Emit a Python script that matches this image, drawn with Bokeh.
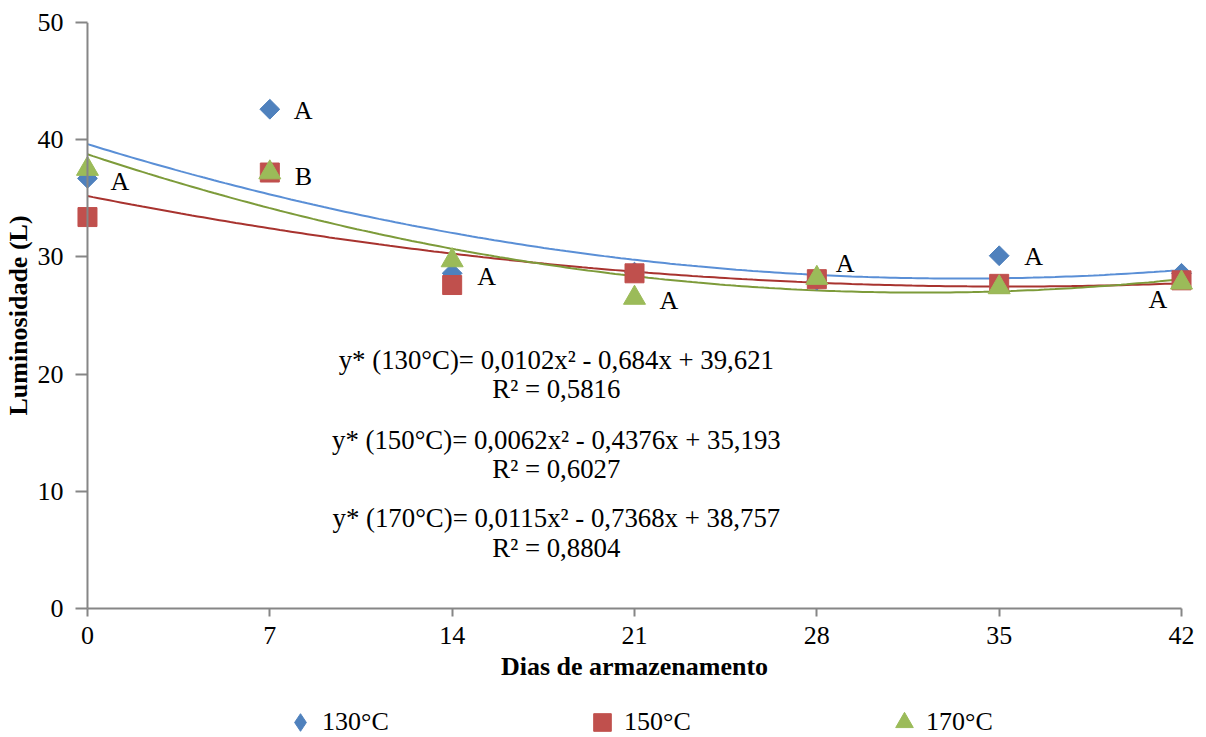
import numpy as np
from bokeh.plotting import figure
from bokeh.layouts import column
from bokeh.models import (Range1d, FixedTicker, Legend, LegendItem, Label, Span, ColumnDataSource)
from bokeh.core.properties import value
from bokeh.embed import file_html
from bokeh.resources import INLINE

# ---------------- data ----------------
days = [0, 7, 14, 21, 28, 35, 42]
l130 = [36.7, 42.6, 28.6, 28.7, 28.0, 30.1, 28.6]
l150 = [33.4, 37.2, 27.6, 28.6, 28.1, 27.7, 28.0]
l170 = [37.5, 37.2, 29.7, 26.5, 28.2, 27.4, 27.8]

# trendline coefficients (a, b, c) of y = a x^2 + b x + c
coef130 = [0.0102, -0.684, 39.621]
coef150 = [0.0062, -0.4376, 35.193]
coef170 = [0.0115, -0.7368, 38.757]

series_names = ["130°C", "150°C", "170°C"]

eq_lines = [
    "y* (130°C)= 0,0102x² - 0,684x + 39,621",
    "R² = 0,5816",
    "y* (150°C)= 0,0062x² - 0,4376x + 35,193",
    "R² = 0,6027",
    "y* (170°C)= 0,0115x² - 0,7368x + 38,757",
    "R² = 0,8804",
]

lbl_text = ["A", "A", "B", "A", "A", "A", "A", "A"]
lbl_day = [0, 7, 7, 14, 21, 28, 35, 42]
lbl_val = [36.4, 42.5, 36.9, 28.3, 26.3, 29.4, 30.0, 26.4]

x_ticks = [0, 7, 14, 21, 28, 35, 42]
y_ticks = [0, 10, 20, 30, 40, 50]

# ---------------- styles ----------------
FONT = "Liberation Serif"
FS = "26px"
AXIS_COLOR = "#868686"
marker_colors = ["#4F81BD", "#C0504D", "#9BBB59"]
line_colors = ["#5A8FD6", "#A8332F", "#7D9B3A"]
lbl_xoff = [23, 24, 25, 25, 25, 19, 25, -33]
eq_x = 18.0
eq_y = [21.2, 18.7, 14.4, 11.9, 7.7, 5.2]

p = figure(width=1206, height=691, output_backend="svg", toolbar_location=None,
           x_range=Range1d(-0.46, 42.46), y_range=Range1d(0, 50),
           min_border_left=75, min_border_right=13, min_border_top=22, min_border_bottom=83)
p.outline_line_color = None
p.xgrid.visible = False
p.ygrid.visible = False
p.background_fill_color = "white"

for ax in (p.xaxis[0], p.yaxis[0]):
    ax.axis_line_color = AXIS_COLOR
    ax.axis_line_width = 2
    ax.major_tick_line_color = AXIS_COLOR
    ax.major_tick_line_width = 2
    ax.minor_tick_line_color = None
    ax.major_label_text_font = FONT
    ax.major_label_text_font_size = FS
    ax.major_label_text_color = "black"
    ax.axis_label_text_font = FONT
    ax.axis_label_text_font_size = FS
    ax.axis_label_text_font_style = "bold"
    ax.axis_label_text_color = "black"

p.xaxis.ticker = FixedTicker(ticks=x_ticks)
p.xaxis.bounds = (0, 42)
p.xaxis.major_tick_out = 8
p.xaxis.major_tick_in = 0
p.xaxis.major_label_standoff = 10
p.xaxis.axis_label = "Dias de armazenamento"
p.xaxis.axis_label_standoff = 5

p.yaxis.ticker = FixedTicker(ticks=y_ticks)
p.yaxis.axis_line_color = None
p.yaxis.major_tick_out = 0
p.yaxis.major_tick_in = 12
p.yaxis.major_label_standoff = 12
p.yaxis.axis_label = "Luminosidade (L)"
p.yaxis.axis_label_standoff = 2

# vertical axis line drawn at x = 0
p.add_layout(Span(location=0, dimension="height", line_color=AXIS_COLOR, line_width=2))

# trendlines
xs = np.linspace(0, 42, 200)
for coef, lc in zip([coef130, coef150, coef170], line_colors):
    ys = coef[0] * xs ** 2 + coef[1] * xs + coef[2]
    p.line(xs, ys, line_color=lc, line_width=2)

# markers
p.scatter(days, l130, marker="square", angle=np.pi / 4, size=14,
          fill_color=marker_colors[0], line_color=marker_colors[0])
p.scatter(days, l150, marker="square", size=19,
          fill_color=marker_colors[1], line_color=marker_colors[1])
p.scatter(days, l170, marker="triangle", size=22,
          fill_color=marker_colors[2], line_color=marker_colors[2])

# letter labels
src = ColumnDataSource(dict(x=lbl_day, y=lbl_val, t=lbl_text, xo=lbl_xoff))
p.text(x="x", y="y", text="t", x_offset="xo", source=src,
       text_font=value(FONT), text_font_size=FS, text_align="left",
       text_baseline="middle", text_color="black")

# equations
for txt, yy in zip(eq_lines, eq_y):
    p.add_layout(Label(x=eq_x, y=yy, text=txt, text_font=FONT, text_font_size="26.8px",
                       text_align="center", text_baseline="middle", text_color="black"))

# ---------------- legend strip ----------------
p2 = figure(width=1206, height=46, output_backend="svg", toolbar_location=None,
            x_range=Range1d(1000, 1001), y_range=Range1d(1000, 1001),
            x_axis_location=None, y_axis_location=None, min_border=0)
p2.outline_line_color = None
p2.xgrid.visible = False
p2.ygrid.visible = False
leg_markers = ["diamond", "square", "triangle"]
leg_r = [p2.scatter(days, vals, marker=m, fill_color=c, line_color=c)
         for m, c, vals in zip(leg_markers, marker_colors, [l130, l150, l170])]
legend = Legend(items=[LegendItem(label=n, renderers=[r]) for n, r in zip(series_names, leg_r)],
                orientation="horizontal", location=(203, -7),
                glyph_width=44, glyph_height=44, label_standoff=0, label_width=67,
                spacing=191, padding=0, margin=0,
                label_text_font=FONT, label_text_font_size=FS, label_text_color="black",
                border_line_color=None, background_fill_alpha=0)
p2.add_layout(legend)

layout = column(p, p2, spacing=0)
open("out.html", "w").write(file_html(layout, INLINE))
